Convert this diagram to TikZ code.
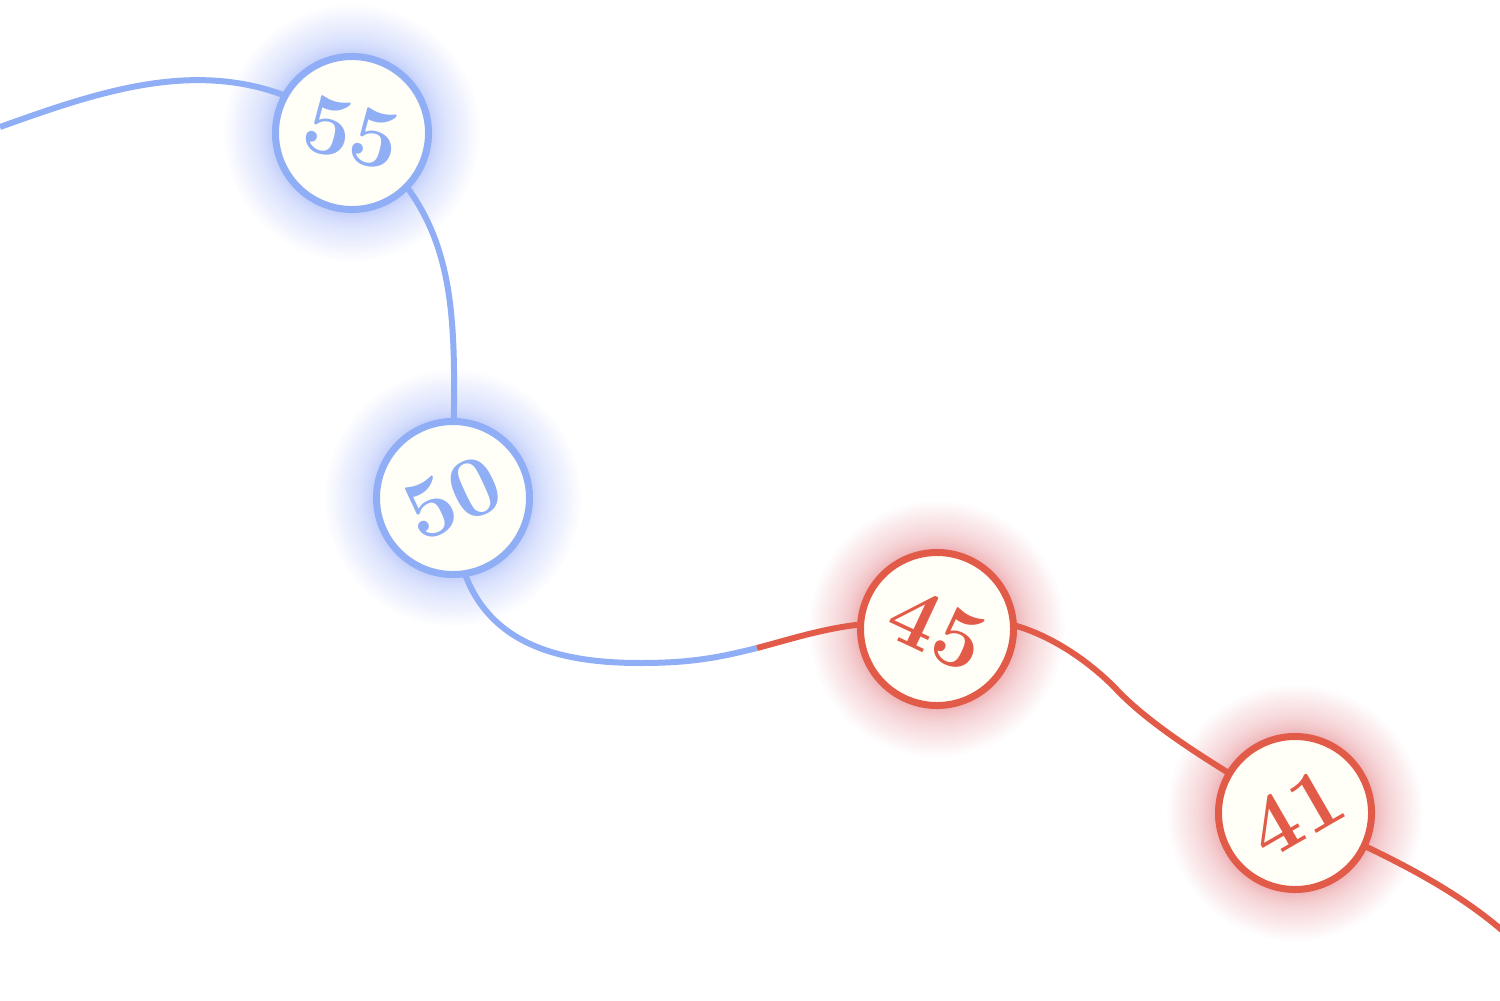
\documentclass[tikz,border=0pt]{standalone}
\definecolor{bl}{HTML}{8FAEF5}
\definecolor{rd}{HTML}{E25A48}
\definecolor{iv}{HTML}{FFFFF7}
\definecolor{blglow}{RGB}{110,140,245}
\definecolor{rdglow}{RGB}{215,75,85}
\pgfdeclarelayer{glowlayer}
\pgfdeclarelayer{linelayer}
\pgfsetlayers{glowlayer,linelayer,main}
\begin{document}
\begin{tikzpicture}[x=1pt,y=-1pt,
  numnode/.style={circle, draw=#1, line width=7pt, fill=iv, minimum size=153pt,
    inner sep=0pt, text=#1, font=\fontsize{86}{88}\selectfont\bfseries},
  curveline/.style={line width=6pt, draw=#1}]
\useasboundingbox (0,0) rectangle (1500,1001);
\node[numnode=bl, rotate=-15] (n55) at (352,133) {55};
\node[numnode=bl, rotate=25] (n50) at (453,498) {50};
\node[numnode=rd, rotate=-25] (n45) at (937,629) {45};
\node[numnode=rd, rotate=30] (n41) at (1295,813) {41};
\begin{pgfonlayer}{glowlayer}
\foreach \n/\c in {n55/blglow,n50/blglow,n45/rdglow,n41/rdglow}
  \foreach \i in {1,...,40}
    \fill[\c, opacity=0.016] (\n.center) circle[radius={(78+50*(\i/40)*(\i/40))*1pt}];
\end{pgfonlayer}
\begin{pgfonlayer}{linelayer}
\coordinate (s) at (0,127);
\coordinate (m) at (640,663);
\coordinate (sp) at (757,648);
\coordinate (q) at (1117,690);
\coordinate (e) at (1515,942);
\draw[curveline=bl] (s) .. controls (120,84) and (235,45) .. (n55.center)
  .. controls (472,223) and (453,330) .. (n50.center)
  .. controls (453,628) and (530,663) .. (m)
  .. controls (690,663) and (717,658) .. (sp);
\draw[curveline=rd] (sp) .. controls (807,635) and (870,612) .. (n45.center)
  .. controls (1000,600) and (1077,648) .. (q)
  .. controls (1157,732) and (1230,774) .. (n41.center)
  .. controls (1360,845) and (1450,880) .. (e);
\end{pgfonlayer}
\end{tikzpicture}
\end{document}
